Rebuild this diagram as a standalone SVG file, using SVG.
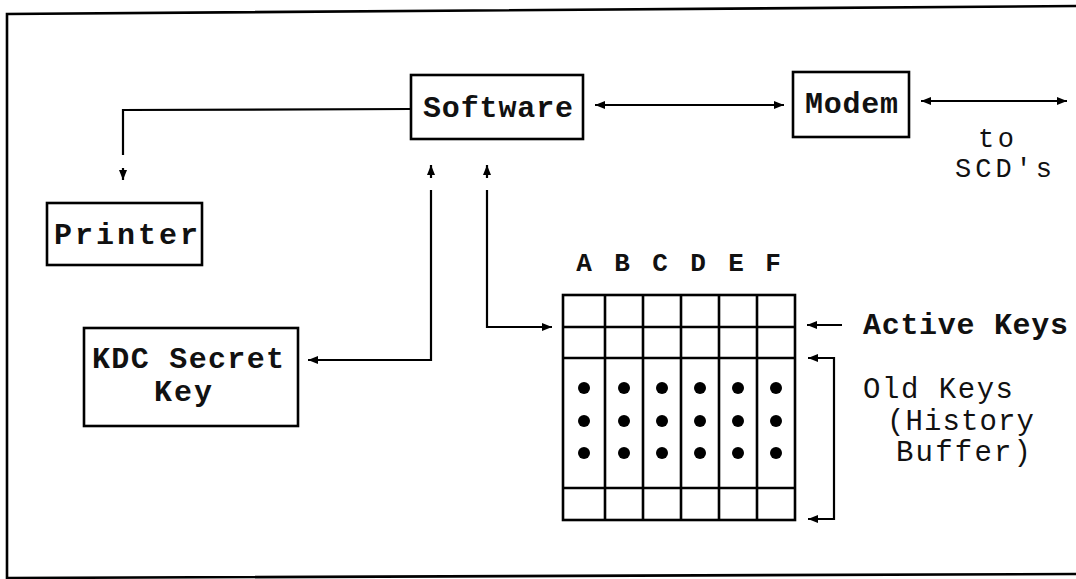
<svg xmlns="http://www.w3.org/2000/svg" width="1076" height="579" viewBox="0 0 1076 579">
<style>
  .box{fill:none;stroke:#000;stroke-width:2.6}
  .ln{fill:none;stroke:#000;stroke-width:2.2}
  .arr{fill:none;stroke:#000;stroke-width:2.2;marker-end:url(#ah)}
  .arr2{fill:none;stroke:#000;stroke-width:2.2;marker-start:url(#ah);marker-end:url(#ah)}
  .t{font-family:"Liberation Mono","DejaVu Sans Mono",monospace;font-weight:bold;font-size:30px;fill:#111}
  .r{font-family:"Liberation Mono","DejaVu Sans Mono",monospace;font-size:29px;fill:#111}
  .s{font-family:"Liberation Mono","DejaVu Sans Mono",monospace;font-size:27px;fill:#111}
  .col{font-family:"Liberation Mono","DejaVu Sans Mono",monospace;font-weight:bold;font-size:26px;fill:#111;text-anchor:middle}
  .dot{fill:#000}
</style>
<defs>
  <marker id="ah" markerUnits="userSpaceOnUse" markerWidth="11" markerHeight="9" refX="10" refY="4" orient="auto-start-reverse">
    <path d="M0,0 L10,4 L0,8 z" fill="#000"/>
  </marker>
</defs>
<rect width="1076" height="579" fill="#fff"/>
<path class="box" d="M1076,6 L7,14 L7,578 L1076,574"/>

<g id="connectors">
  <path class="ln" d="M411,109 L123,110 L123,155"/>
  <path class="arr" d="M123,168 L123,180"/>
  <path class="arr" d="M431,178 L431,165"/>
  <path class="arr" d="M487,178 L487,165"/>
  <path class="arr" d="M431,190 L431,360 L308,360"/>
  <path class="arr" d="M487,190 L487,327 L552,327"/>
  <path class="arr2" d="M595,105 L784,105"/>
  <path class="arr2" d="M921,101 L1067,101"/>
  <path class="arr" d="M842,325 L807,325"/>
  <path class="arr" d="M808,358 L834,358 L834,519 L808,519" style="marker-start:url(#ah)"/>
</g>

<g id="software">
  <rect class="box" x="411" y="75" width="172" height="64"/>
  <text class="t" x="423" y="117" textLength="150" lengthAdjust="spacing">Software</text>
</g>
<g id="modem">
  <rect class="box" x="793" y="72" width="116" height="65"/>
  <text class="t" x="805" y="113" textLength="93" lengthAdjust="spacing">Modem</text>
</g>
<g id="to-scds">
  <text class="s" x="978" y="147" textLength="36" lengthAdjust="spacing">to</text>
  <text class="s" x="955" y="177" textLength="97" lengthAdjust="spacing">SCD's</text>
</g>
<g id="printer">
  <rect class="box" x="47" y="203" width="155" height="62"/>
  <text class="t" x="54" y="244" textLength="144" lengthAdjust="spacing">Printer</text>
</g>
<g id="kdc">
  <rect class="box" x="84" y="328" width="214" height="98"/>
  <text class="t" x="92" y="368" textLength="192" lengthAdjust="spacing">KDC Secret</text>
  <text class="t" x="154" y="401" textLength="58" lengthAdjust="spacing">Key</text>
</g>
<g id="key-buffer">
  <g>
    <text class="col" x="584" y="271">A</text>
    <text class="col" x="622" y="271">B</text>
    <text class="col" x="660" y="271">C</text>
    <text class="col" x="698" y="271">D</text>
    <text class="col" x="736" y="271">E</text>
    <text class="col" x="773" y="271">F</text>
  </g>
  <rect class="box" x="563" y="295" width="232" height="225"/>
  <path class="box" d="M563,327 H795 M563,358 H795 M563,488 H795 M605,295 V520 M643,295 V520 M681,295 V520 M719,295 V520 M757,295 V520"/>
  <g class="dot">
    <circle cx="584" cy="388" r="6"/><circle cx="624" cy="388" r="6"/><circle cx="662" cy="388" r="6"/><circle cx="700" cy="388" r="6"/><circle cx="738" cy="388" r="6"/><circle cx="776" cy="388" r="6"/>
    <circle cx="584" cy="421" r="6"/><circle cx="624" cy="421" r="6"/><circle cx="662" cy="421" r="6"/><circle cx="700" cy="421" r="6"/><circle cx="738" cy="421" r="6"/><circle cx="776" cy="421" r="6"/>
    <circle cx="584" cy="453" r="6"/><circle cx="624" cy="453" r="6"/><circle cx="662" cy="453" r="6"/><circle cx="700" cy="453" r="6"/><circle cx="738" cy="453" r="6"/><circle cx="776" cy="453" r="6"/>
  </g>
</g>
<g id="active-keys">
  <text class="t" x="863" y="334" textLength="205" lengthAdjust="spacing">Active Keys</text>
</g>
<g id="old-keys">
  <text class="r" x="863" y="398" textLength="150" lengthAdjust="spacing">Old Keys</text>
  <text class="r" x="887" y="430" textLength="147" lengthAdjust="spacing">(History</text>
  <text class="r" x="896" y="461" textLength="135" lengthAdjust="spacing">Buffer)</text>
</g>
</svg>
